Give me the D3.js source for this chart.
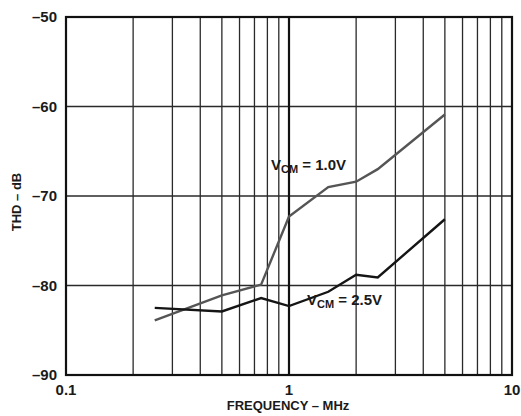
<!DOCTYPE html>
<html>
<head>
<meta charset="utf-8">
<script src="https://cdn.jsdelivr.net/npm/d3@7"></script>
<style>
  body { margin: 0; background: #fff; }
  svg text { font-family: "Liberation Sans", Arial, sans-serif; font-weight: bold; fill: #1a1a1a; }
</style>
</head>
<body>
<div id="chart"></div>
<script>
// frequency in MHz, THD in dB
var freqLow = [0.25, 0.5, 0.75, 1, 1.5, 2, 2.5, 5];
var thdVcm10 = [-83.9, -81.1, -79.9, -72.3, -69.0, -68.4, -67.0, -60.9];
var thdVcm25 = [-82.5, -82.9, -81.4, -82.3, -80.7, -78.8, -79.1, -72.6];
var yTicks = [-50, -60, -70, -80, -90];
var xTickLabels = [0.1, 1, 10];

const width = 521;
const height = 416;
const plotL = 66, plotR = 512, plotT = 17, plotB = 375;

var svg = d3.select("#chart").append("svg")
    .attr("width", width)
    .attr("height", height);

var x = d3.scaleLog().domain([0.1, 10]).range([plotL, plotR]);
var y = d3.scaleLinear().domain([-90, -50]).range([plotB, plotT]);

// minor vertical grid 2..9 in each decade
var minor = [];
[0.1, 1].forEach(function(dec) {
    for (var k = 2; k <= 9; k++) minor.push(dec * k);
});

svg.append("g").selectAll("line")
    .data(minor)
    .enter().append("line")
    .attr("x1", d => x(d)).attr("x2", d => x(d))
    .attr("y1", plotT).attr("y2", plotB)
    .attr("stroke", "#2a2a2a")
    .attr("stroke-width", 1.3);

svg.append("g").selectAll("line")
    .data(yTicks)
    .enter().append("line")
    .attr("x1", plotL).attr("x2", plotR)
    .attr("y1", d => y(d)).attr("y2", d => y(d))
    .attr("stroke", "#2a2a2a")
    .attr("stroke-width", 1.3);

// decade line at 1 MHz is heavier
svg.append("line")
    .attr("x1", x(1)).attr("x2", x(1))
    .attr("y1", plotT).attr("y2", plotB)
    .attr("stroke", "#111")
    .attr("stroke-width", 2.2);

svg.append("rect")
    .attr("x", plotL).attr("y", plotT)
    .attr("width", plotR - plotL).attr("height", plotB - plotT)
    .attr("fill", "none")
    .attr("stroke", "#111")
    .attr("stroke-width", 2.2);

var line = d3.line()
    .x(d => x(d[0]))
    .y(d => y(d[1]));

svg.append("path")
    .datum(d3.zip(freqLow, thdVcm10))
    .attr("d", line)
    .attr("fill", "none")
    .attr("stroke", "#555")
    .attr("stroke-width", 2.4);

svg.append("path")
    .datum(d3.zip(freqLow, thdVcm25))
    .attr("d", line)
    .attr("fill", "none")
    .attr("stroke", "#151515")
    .attr("stroke-width", 2.4);

// tick labels
svg.append("g").selectAll("text")
    .data(yTicks)
    .enter().append("text")
    .attr("x", plotL - 9)
    .attr("y", d => y(d))
    .attr("dy", "0.36em")
    .attr("text-anchor", "end")
    .attr("font-size", 15)
    .text(d => "\u2013" + Math.abs(d));

svg.append("g").selectAll("text")
    .data(xTickLabels)
    .enter().append("text")
    .attr("x", d => x(d))
    .attr("y", 395)
    .attr("text-anchor", "middle")
    .attr("font-size", 15)
    .text(d => d);

// axis titles
svg.append("text")
    .attr("x", 288)
    .attr("y", 410)
    .attr("text-anchor", "middle")
    .attr("font-size", 13)
    .text("FREQUENCY \u2013 MHz");

svg.append("text")
    .attr("transform", "translate(21,202) rotate(-90)")
    .attr("text-anchor", "middle")
    .attr("font-size", 13)
    .text("THD \u2013 dB");

// curve labels
function vcmLabel(px, py, value) {
    var t = svg.append("text")
        .attr("x", px).attr("y", py)
        .attr("font-size", 15);
    t.append("tspan").text("V");
    t.append("tspan").attr("font-size", 11).attr("dy", 3).text("CM");
    t.append("tspan").attr("dy", -3).text(" = " + value);
}
vcmLabel(271, 170, "1.0V");
vcmLabel(307, 305, "2.5V");
</script>
</body>
</html>
